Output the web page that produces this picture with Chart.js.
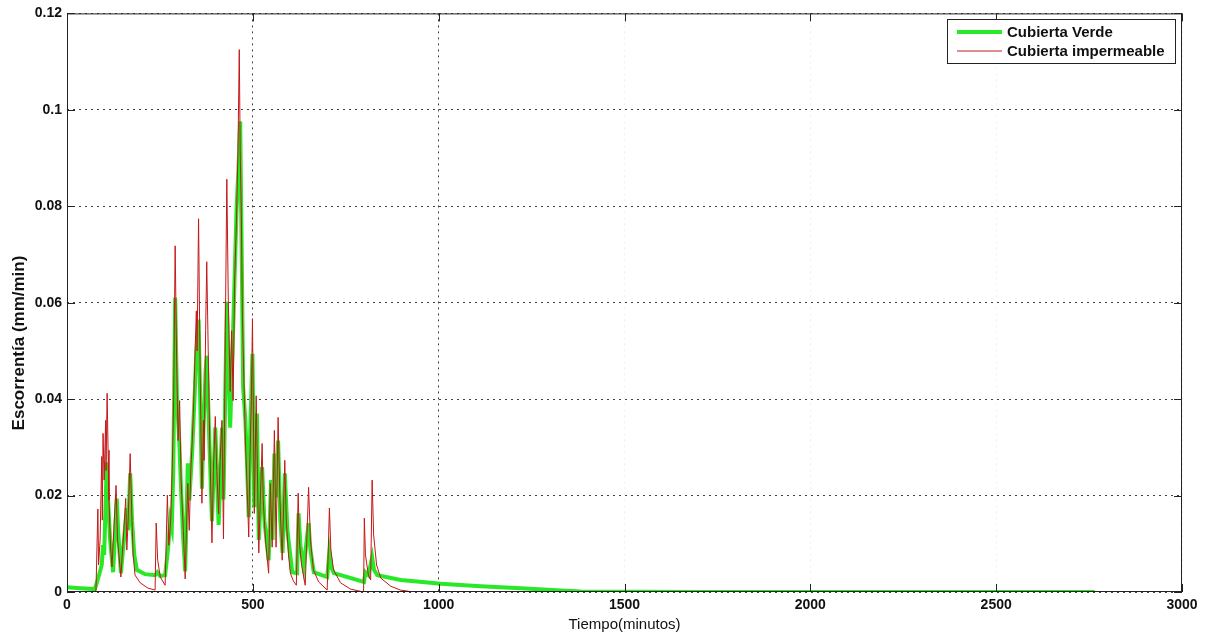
<!DOCTYPE html>
<html>
<head>
<meta charset="utf-8">
<script src="https://cdn.jsdelivr.net/npm/chart.js@4.4.1/dist/chart.umd.min.js"></script>
<style>
  html, body { margin: 0; padding: 0; background: #fff; }
  #wrap { width: 1210px; height: 636px; }
</style>
</head>
<body>
<div id="wrap"><canvas id="grafico" width="1210" height="636"></canvas></div>
<script>
// ejes
const ticksX = [0, 500, 1000, 1500, 2000, 2500, 3000];
const ticksY = [0, 0.02, 0.04, 0.06, 0.08, 0.1, 0.12];

// Cubierta impermeable (minutos, mm/min)
const tiempoImp = [0, 75, 78, 83, 85, 89, 93.5, 95, 97, 100, 104, 105, 108, 110.5, 113, 117, 121, 132, 136, 145,
    158, 161, 164.5, 170, 174, 178, 183, 197, 218, 237, 240, 244, 251, 264, 270, 274, 279, 283, 287, 291,
    295, 299, 303, 307, 313, 318, 322, 325, 329, 333, 337, 340, 344, 348, 350, 354, 357, 360, 363, 367,
    369, 373, 376, 380, 384, 390, 394, 399, 403, 408, 412, 417, 421, 426, 430, 434, 439, 443, 447, 451,
    456, 460, 463.5, 466, 469, 472, 476, 480, 484, 489, 492, 496, 499, 504, 509, 516, 520, 525, 528, 534,
    542.5, 547, 552, 558, 562.5, 568, 573, 579, 586, 590, 596, 601, 609, 617, 622, 625, 631, 641, 650, 655,
    663, 677, 700, 706, 710, 717, 736, 763, 798, 800, 803, 811, 817, 821, 825, 833, 844, 871, 897, 932];
const escImp = [0, 0, 0.0004, 0.0172, 0.0056, 0.0108, 0.0281, 0.0149, 0.0329, 0.0232, 0.0356, 0.0252, 0.0412, 0.0294, 0.019, 0.0097, 0.0052, 0.0221, 0.0108, 0.0031,
    0.0194, 0.0087, 0.0149, 0.0287, 0.017, 0.0077, 0.0035, 0.0019, 0.0008, 0.0004, 0.0143, 0.0066, 0.0031, 0.0014, 0.0201, 0.0097, 0.0149, 0.0252, 0.0397, 0.0718,
    0.048, 0.0314, 0.0397, 0.0232, 0.0128, 0.0027, 0.0149, 0.0225, 0.0128, 0.0252, 0.0314, 0.037, 0.048, 0.0583, 0.05, 0.0774, 0.0542, 0.0356, 0.0184, 0.0356,
    0.0273, 0.0542, 0.0685, 0.05, 0.0314, 0.0102, 0.0252, 0.0364, 0.0252, 0.0162, 0.0273, 0.0356, 0.011, 0.0542, 0.0856, 0.0604, 0.0416, 0.0542, 0.0397, 0.0645,
    0.0769, 0.0914, 0.1125, 0.0914, 0.079, 0.0569, 0.0438, 0.0314, 0.023, 0.0114, 0.0273, 0.0397, 0.0567, 0.0163, 0.0407, 0.0081, 0.019, 0.0308, 0.019, 0.0108,
    0.0039, 0.0225, 0.0093, 0.0335, 0.0093, 0.0362, 0.019, 0.0066, 0.0273, 0.0149, 0.0077, 0.0039, 0.0023, 0.0014, 0.0205, 0.0108, 0.0056, 0.0014, 0.0217, 0.0108,
    0.0046, 0.0021, 0.0004, 0.0174, 0.0087, 0.0046, 0.0019, 0.0006, 0, 0.0153, 0.0077, 0.0035, 0.0025, 0.0232, 0.0118, 0.0056, 0.0029, 0.0012, 0.0004, 0];

// Cubierta Verde (minutos, mm/min)
const tiempoVerde = [0, 35, 75, 84, 93.5, 97, 100, 107, 110.5, 116, 124, 134, 137.5, 145, 161, 164.5, 170, 175, 181, 188,
    210, 237, 243, 251, 264, 272, 278, 282, 286, 291, 296, 302, 307, 313, 318, 325, 329, 337, 344, 348,
    354, 358.5, 363, 367, 373, 376, 383, 390, 399, 408, 417, 421, 430, 439, 447, 456, 461, 466, 470, 474,
    480, 484, 489, 493, 499, 504, 511, 516, 525, 531, 542.5, 549, 553, 558, 562.5, 568, 574, 580, 586, 593,
    606, 619, 623, 628, 637, 650, 655, 664, 700, 706, 712, 718, 799, 803, 811, 821, 826, 835, 898, 978,
    1005, 1113, 1221, 1329, 1383, 1706, 2765];
const escVerde = [0.001, 0.0008, 0.0006, 0.0029, 0.0056, 0.0097, 0.0077, 0.0269, 0.019, 0.0108, 0.0041, 0.0194, 0.0128, 0.0039, 0.0174, 0.0128, 0.0246, 0.0149, 0.0077, 0.0046,
    0.0037, 0.0035, 0.0041, 0.0033, 0.0035, 0.0091, 0.0149, 0.0134, 0.0252, 0.061, 0.0397, 0.0314, 0.0211, 0.0108, 0.0043, 0.0267, 0.019, 0.0294, 0.0418, 0.05,
    0.0565, 0.0397, 0.0214, 0.0335, 0.0459, 0.049, 0.0314, 0.0147, 0.0341, 0.0139, 0.0341, 0.0192, 0.0602, 0.0341, 0.0542, 0.079, 0.0873, 0.0976, 0.0707, 0.0424,
    0.0356, 0.0273, 0.0155, 0.0335, 0.0494, 0.0176, 0.037, 0.0108, 0.0259, 0.0149, 0.0066, 0.0232, 0.0108, 0.0287, 0.0196, 0.0314, 0.0149, 0.0081, 0.0246, 0.0128,
    0.0041, 0.0039, 0.0163, 0.0097, 0.0052, 0.0143, 0.0087, 0.0041, 0.0031, 0.0083, 0.005, 0.0039, 0.0021, 0.0041, 0.0035, 0.0072, 0.0046, 0.0035, 0.0025, 0.0019,
    0.0017, 0.0012, 0.0008, 0.0003, 0.0001, 0, 0];

const nombres = ['Cubierta Verde', 'Cubierta impermeable'];
const colores = ['rgb(40,232,40)', 'rgb(196,24,24)'];

const toXY = (xs, ys) => xs.map((x, i) => ({ x: x, y: ys[i] }));

// marco, marcas hacia dentro, leyenda y titulos (al estilo MATLAB)
const marcoPlugin = {
    id: 'marco',
    afterDraw: (chart) => {
        const ctx = chart.ctx;
        const a = chart.chartArea;
        const sx = chart.scales.x;
        const sy = chart.scales.y;
        ctx.save();
        ctx.strokeStyle = '#222';
        ctx.lineWidth = 1;
        ctx.strokeRect(a.left + 0.5, a.top + 0.5, a.right - a.left - 1, a.bottom - a.top - 1);
        const tl = 8;
        ctx.beginPath();
        ticksX.forEach(v => {
            const px = Math.round(sx.getPixelForValue(v)) + 0.5;
            ctx.moveTo(px, a.bottom); ctx.lineTo(px, a.bottom - tl);
            ctx.moveTo(px, a.top); ctx.lineTo(px, a.top + tl);
        });
        ticksY.forEach(v => {
            const py = Math.round(sy.getPixelForValue(v)) + 0.5;
            ctx.moveTo(a.left, py); ctx.lineTo(a.left + tl, py);
            ctx.moveTo(a.right, py); ctx.lineTo(a.right - tl, py);
        });
        ctx.stroke();

        // leyenda
        const lx = 947, ly = 19, lw = 228, lh = 44;
        ctx.fillStyle = '#fff';
        ctx.fillRect(lx, ly, lw, lh);
        ctx.strokeStyle = '#222';
        ctx.strokeRect(lx + 0.5, ly + 0.5, lw, lh);
        ctx.font = 'bold 15px "Liberation Sans", Arial, sans-serif';
        ctx.textBaseline = 'middle';
        ctx.textAlign = 'left';
        chart.data.datasets.forEach((ds, i) => {
            const yy = ly + 13 + i * 19;
            ctx.strokeStyle = ds.borderColor;
            ctx.lineWidth = ds.borderWidth;
            ctx.beginPath();
            ctx.moveTo(957, yy); ctx.lineTo(1002, yy);
            ctx.stroke();
            ctx.fillStyle = '#111';
            ctx.fillText(ds.label, 1007, yy + 1);
        });

        // titulos de ejes
        ctx.fillStyle = '#111';
        ctx.font = '15px "Liberation Sans", Arial, sans-serif';
        ctx.textAlign = 'center';
        ctx.fillText('Tiempo(minutos)', (a.left + a.right) / 2, 625);
        ctx.translate(19, 343);
        ctx.rotate(-Math.PI / 2);
        ctx.font = 'bold 17px "Liberation Sans", Arial, sans-serif';
        ctx.fillText('Escorrentía (mm/min)', 0, 0);
        ctx.restore();
    }
};

const fuenteTicks = { family: '"Liberation Sans", Arial, sans-serif', size: 14, weight: 'bold' };

new Chart(document.getElementById('grafico').getContext('2d'), {
    type: 'line',
    data: {
        datasets: [
            {
                label: nombres[0],
                data: toXY(tiempoVerde, escVerde),
                borderColor: colores[0],
                borderWidth: 4,
                pointRadius: 0,
                tension: 0,
                order: 1
            },
            {
                label: nombres[1],
                data: toXY(tiempoImp, escImp),
                borderColor: colores[1],
                borderWidth: 1,
                pointRadius: 0,
                tension: 0,
                order: 0
            }
        ]
    },
    options: {
        responsive: false,
        animation: false,
        devicePixelRatio: 1,
        layout: { padding: { left: 0, right: 28, top: 12, bottom: 0 } },
        plugins: {
            legend: { display: false },
            tooltip: { enabled: false }
        },
        scales: {
            x: {
                type: 'linear',
                min: 0,
                max: 3000,
                afterFit: (scale) => { scale.height = 44; },
                afterBuildTicks: (scale) => { scale.ticks = ticksX.map(v => ({ value: v })); },
                ticks: {
                    font: fuenteTicks,
                    color: '#111',
                    padding: 5,
                    maxRotation: 0,
                    callback: (v) => String(v)
                },
                grid: {
                    drawTicks: false,
                    color: (c) => (c.tick && c.tick.value > 1000 ? 'rgba(0,0,0,0.06)' : 'rgba(0,0,0,0.75)'),
                    lineWidth: 1
                },
                border: { display: false, dash: [2, 4] }
            },
            y: {
                min: 0,
                max: 0.12,
                afterFit: (scale) => { scale.width = 67; },
                afterBuildTicks: (scale) => { scale.ticks = ticksY.map(v => ({ value: v })); },
                ticks: {
                    font: fuenteTicks,
                    color: '#111',
                    padding: 5,
                    callback: (v) => String(Math.round(v * 100) / 100)
                },
                grid: {
                    drawTicks: false,
                    color: 'rgba(0,0,0,0.75)',
                    lineWidth: 1
                },
                border: { display: false, dash: [2, 4] }
            }
        }
    },
    plugins: [marcoPlugin]
});
</script>
</body>
</html>
